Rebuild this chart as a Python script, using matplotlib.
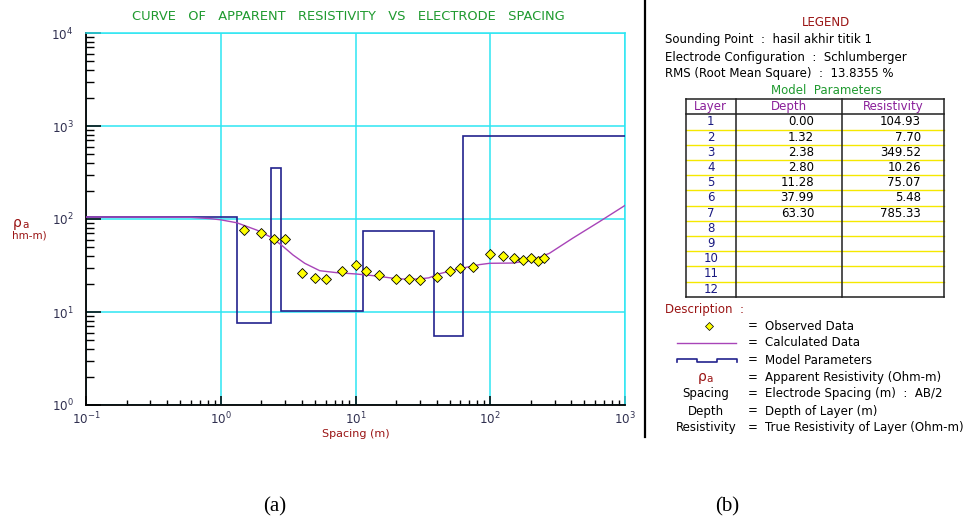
import matplotlib
matplotlib.use("Agg")
import matplotlib.pyplot as plt
import numpy as np

# ---------------- data ----------------
obs_spacing = [1.5, 2, 2.5, 3, 4, 5, 6, 8, 10, 12, 15, 20, 25, 30, 40, 50, 60, 75,
               100, 125, 150, 175, 200, 225, 250]
obs_rho = [76, 70, 61, 61, 26.4, 23, 22.4, 27.5, 32, 27.5, 25, 22.6, 22.6, 22, 23.5,
           27.5, 29.4, 30.8, 41.8, 40, 38, 35.8, 38, 35.2, 38]

calc_spacing = [0.1, 0.3, 0.6, 0.83, 1.0, 1.32, 1.85, 2.32, 2.82, 3.44, 4.2, 5.43, 7.2,
                10.2, 14.3, 20.1, 25, 30, 35, 42, 59, 83, 99, 147, 207, 275, 408, 645, 1000]
calc_rho = [104.93, 104.9, 104.3, 101, 98, 91, 76, 64.5, 52.5, 41, 33.4, 27.8, 26.5,
            25.6, 24.4, 22.8, 22.5, 22.7, 23.3, 25.8, 29.2, 32.3, 33.4, 33.6, 36.2, 42.8,
            62, 93.5, 140]

layers = [1, 2, 3, 4, 5, 6, 7, 8, 9, 10, 11, 12]
depths = [0.00, 1.32, 2.38, 2.80, 11.28, 37.99, 63.30]
resistivities = [104.93, 7.70, 349.52, 10.26, 75.07, 5.48, 785.33]

x_min, x_max = 0.1, 1000
y_min, y_max = 1, 10000

sounding_point = "hasil akhir titik 1"
configuration = "Schlumberger"
rms = 13.8355

# ---------------- figure ----------------
W, H = 967, 522
fig = plt.figure(figsize=(W / 100, H / 100), dpi=100)
fig.patch.set_facecolor("white")

SANS = ["DejaVu Sans"]
DARKRED = "#9a1414"
GREEN = "#1f9a2f"
CYAN = "#2ee6f2"
NAVY = "#23238e"
PURPLE = "#a844b8"

# overlay axes in pixel coordinates for panel (b) and free text
ov = fig.add_axes([0, 0, 1, 1], zorder=0)
ov.set_xlim(0, W)
ov.set_ylim(H, 0)
ov.axis("off")

# main chart
L, R, T, B = 86, 625, 33, 405
ax = fig.add_axes([L / W, 1 - B / H, (R - L) / W, (B - T) / H], zorder=1)
ax.set_xscale("log")
ax.set_yscale("log")
ax.set_xlim(x_min, x_max)
ax.set_ylim(y_min, y_max)

ax.grid(which="major", color=CYAN, lw=1.1, zorder=0)
ax.set_axisbelow(True)
for s in ("top", "right"):
    ax.spines[s].set_color(CYAN)
    ax.spines[s].set_linewidth(1.1)
for s in ("left", "bottom"):
    ax.spines[s].set_color("black")
    ax.spines[s].set_linewidth(1.3)

ax.tick_params(axis="y", which="major", direction="in", length=10.8, width=1.1,
               colors="black", labelcolor="#303050", labelsize=8.6, pad=9)
ax.tick_params(axis="y", which="minor", direction="in", length=5.8, width=1.0)
ax.tick_params(axis="x", which="major", direction="in", length=6.5, width=1.1,
               colors="black", labelcolor="#303050", labelsize=8.6, pad=4)
ax.tick_params(axis="x", which="minor", direction="in", length=3.5, width=1.0)
ax.yaxis.set_minor_locator(matplotlib.ticker.LogLocator(base=10, subs=np.arange(2, 10), numticks=20))
ax.xaxis.set_minor_locator(matplotlib.ticker.LogLocator(base=10, subs=np.arange(2, 10), numticks=20))
ax.yaxis.set_minor_formatter(matplotlib.ticker.NullFormatter())
ax.xaxis.set_minor_formatter(matplotlib.ticker.NullFormatter())

# model parameters step line
edges = list(depths[1:]) + [x_max]
mx = [x_min]
my = [resistivities[0]]
for i, r in enumerate(resistivities):
    mx.append(edges[i])
    my.append(r)
    if i + 1 < len(resistivities):
        mx.append(edges[i])
        my.append(resistivities[i + 1])
ax.plot(mx, my, color=NAVY, lw=1.2, zorder=3, solid_joinstyle="miter")
ax.plot(calc_spacing, calc_rho, color=PURPLE, lw=1.0, zorder=4)
ax.plot(obs_spacing, obs_rho, ls="none", marker="D", ms=4.6, mfc="#ffff00",
        mec="black", mew=0.6, zorder=5)

ax.set_title("CURVE   OF   APPARENT   RESISTIVITY   VS   ELECTRODE   SPACING",
             color=GREEN, fontsize=9.4, family=["DejaVu Sans"], pad=9, x=0.487)
ax.set_xlabel("Spacing (m)", color=DARKRED, fontsize=8, family=SANS, labelpad=1)

ov.text(13, 223, "\u03c1", color=DARKRED, fontsize=10, family=SANS, va="center", ha="left")
ov.text(22, 225, "a", color=DARKRED, fontsize=7.5, family=SANS, va="center", ha="left")
ov.text(12, 236, "hm-m)", color=DARKRED, fontsize=7.5, family=SANS, va="center", ha="left")

# ---------------- panel (b) ----------------
ov.plot([645, 645], [0, 437], color="black", lw=1.6)

fs = 8.5
ov.text(826, 22, "LEGEND", color=DARKRED, fontsize=fs, family=SANS, ha="center", va="center")
ov.text(665, 40, f"Sounding Point  :  {sounding_point}", fontsize=fs, family=SANS, va="center")
ov.text(665, 57, f"Electrode Configuration  :  {configuration}", fontsize=fs, family=SANS, va="center")
ov.text(665, 73, f"RMS (Root Mean Square)  :  {rms:.4f} %", fontsize=fs, family=SANS, va="center")
ov.text(826, 90, "Model  Parameters", color=GREEN, fontsize=fs, family=SANS, ha="center", va="center")

tx = [685.7, 736, 841.7, 944]
t_top, h_bot = 99.3, 114.3
row_h = 15.2
t_bot = h_bot + row_h * len(layers)
for k in range(1, len(layers)):
    yy = h_bot + row_h * k
    ov.plot([tx[0], tx[-1]], [yy, yy], color="#f5e800", lw=1.0, zorder=2)
for xx in tx:
    ov.plot([xx, xx], [t_top, t_bot], color="#202020", lw=1.1, zorder=3)
for yy in (t_top, h_bot, t_bot):
    ov.plot([tx[0], tx[-1]], [yy, yy], color="#202020", lw=1.1, zorder=3)

HDR = "#8a1f9a"
ov.text((tx[0] + tx[1]) / 2, (t_top + h_bot) / 2, "Layer", color=HDR, fontsize=fs, family=SANS, ha="center", va="center")
ov.text((tx[1] + tx[2]) / 2, (t_top + h_bot) / 2, "Depth", color=HDR, fontsize=fs, family=SANS, ha="center", va="center")
ov.text((tx[2] + tx[3]) / 2, (t_top + h_bot) / 2, "Resistivity", color=HDR, fontsize=fs, family=SANS, ha="center", va="center")
for k, lay in enumerate(layers):
    yc = h_bot + row_h * (k + 0.5)
    ov.text((tx[0] + tx[1]) / 2, yc, str(lay), color="#1a1a80", fontsize=fs, family=SANS, ha="center", va="center")
    if k < len(depths):
        ov.text(814, yc, f"{depths[k]:.2f}", fontsize=fs, family=SANS, ha="right", va="center")
        ov.text(921, yc, f"{resistivities[k]:.2f}", fontsize=fs, family=SANS, ha="right", va="center")

ov.text(665, 309, "Description  :", color=DARKRED, fontsize=fs, family=SANS, va="center")
eq_x, txt_x = 753, 765
desc = [
    (326, "Observed Data"),
    (343, "Calculated Data"),
    (360, "Model Parameters"),
    (377.5, "Apparent Resistivity (Ohm-m)"),
    (394, "Electrode Spacing (m)  :  AB/2"),
    (411, "Depth of Layer (m)"),
    (428, "True Resistivity of Layer (Ohm-m)"),
]
for yy, t in desc:
    ov.text(eq_x, yy, "=", fontsize=fs, family=SANS, va="center", ha="center")
    ov.text(txt_x, yy, t, fontsize=fs, family=SANS, va="center")

ov.plot([709], [326], ls="none", marker="D", ms=4.2, mfc="#ffff00", mec="black", mew=0.5)
ov.plot([677, 736], [343.3, 343.3], color=PURPLE, lw=1.0)
ov.plot([677, 677, 697, 697, 717, 717, 737, 737],
        [362, 359, 359, 362, 362, 359, 359, 362], color=NAVY, lw=1.2)
ov.text(702, 377.5, "\u03c1", color=DARKRED, fontsize=10, family=SANS, ha="center", va="center")
ov.text(710, 379.5, "a", color=DARKRED, fontsize=7.5, family=SANS, ha="center", va="center")
ov.text(706, 394, "Spacing", fontsize=fs, family=SANS, ha="center", va="center")
ov.text(706, 411, "Depth", fontsize=fs, family=SANS, ha="center", va="center")
ov.text(706, 428, "Resistivity", fontsize=fs, family=SANS, ha="center", va="center")

# captions
ov.text(275, 507, "(a)", fontsize=15, family=["Liberation Serif", "DejaVu Serif"], ha="center", va="center")
ov.text(727, 507, "(b)", fontsize=15, family=["Liberation Serif", "DejaVu Serif"], ha="center", va="center")

fig.savefig("out.png", dpi=100)
